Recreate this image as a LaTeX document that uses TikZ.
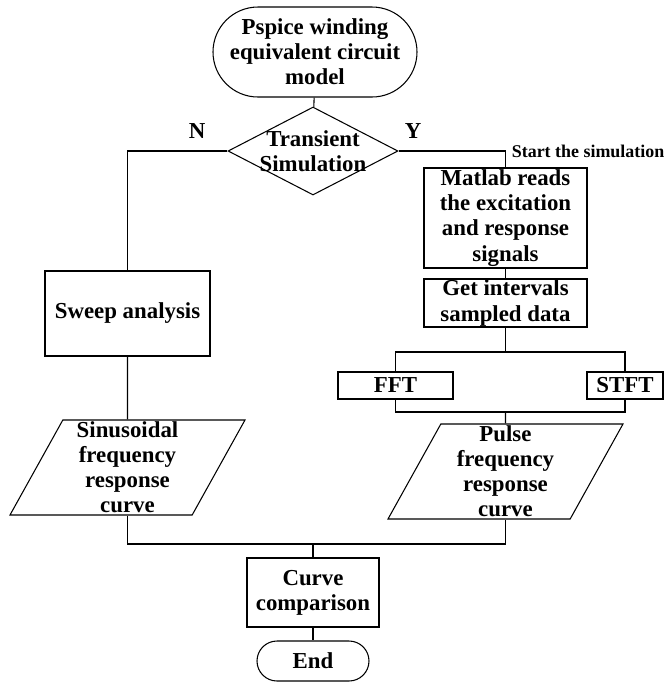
\documentclass[tikz,border=0pt]{standalone}
\usepackage{fontspec}
\setmainfont{Liberation Serif}
\usetikzlibrary{shapes.geometric}

\begin{document}
\begin{tikzpicture}[
    box/.style={draw, line width=0.6pt, align=center, inner sep=0pt},
    decision/.style={draw, diamond, line width=0.6pt, minimum width=3.4cm, minimum height=1.76cm, inner sep=0pt},
    io/.style={box, trapezium, trapezium left angle=60, trapezium right angle=120, trapezium stretches body, minimum width=4.7cm, minimum height=1.9cm},
    link/.style={line width=0.6pt},
    note/.style={font=\fontsize{10.2}{12}\selectfont\bfseries},
    every node/.style={font=\fontsize{13}{14.3}\selectfont\bfseries}
]
\useasboundingbox (0,0) rectangle (13.4,-13.64);

% Start
\node[box, rounded corners=0.9cm, minimum width=4.08cm, minimum height=1.8cm] (start) at (6.3,-1.04) {Pspice winding\\equivalent circuit\\model};

% Decision
\node[decision] (sim) at (6.26,-3.02) {};
\node[align=center, inner sep=0pt] (simtext) at (sim) {Transient\\Simulation};
\node (no) at (3.94,-2.62) {N};
\node (yes) at (8.26,-2.62) {Y};

% Sweep branch
\node[box, minimum width=3.3cm, minimum height=1.7cm] (sweep) at (2.55,-6.27) {Sweep analysis};
\node[io] (sinus) at (2.55,-9.35) {Sinusoidal\\frequency\\response\\curve};

% Transient branch
\node[box, minimum width=3.26cm, minimum height=2cm] (matlab) at (10.11,-4.36) {Matlab reads\\the excitation\\and response\\signals};
\node[box, minimum width=3.26cm, minimum height=0.96cm] (get) at (10.11,-6.06) {Get intervals\\sampled data};
\node[box, minimum width=2.3cm, minimum height=0.54cm] (fft) at (7.91,-7.71) {FFT};
\node[box, minimum width=1.52cm, minimum height=0.54cm] (stft) at (12.5,-7.71) {STFT};
\node[io] (pulse) at (10.11,-9.43) {Pulse\\frequency\\response\\curve};

% Comparison
\node[box, minimum width=2.64cm, minimum height=1.38cm] (curve) at (6.26,-11.85) {Curve\\comparison};
\node[box, rounded corners=0.4cm, minimum width=2.24cm, minimum height=0.8cm] (end) at (6.26,-13.22) {End};

% Junctions
\coordinate (split) at (10.11,-7.04);
\coordinate (merge) at (10.11,-8.24);
\coordinate (join) at (6.26,-10.88);

% Lines
\draw[link] (start) -- (sim);
\draw[link] (sim.west) -| (sweep);
\draw[link] (sim.east) -| (matlab) node[pos=0.5, right, note] {Start the simulation};
\draw[link] (sweep) -- (sinus);
\draw[link] (matlab) -- (get);
\draw[link] (get) -- (split);
\draw[link] (fft) |- (split) -| (stft);
\draw[link] (fft) |- (merge) -| (stft);
\draw[link] (merge) -- (pulse);
\draw[link] (sinus) |- (join) -| (pulse);
\draw[link] (join) -- (curve);
\draw[link] (curve) -- (end);

\end{tikzpicture}
\end{document}
